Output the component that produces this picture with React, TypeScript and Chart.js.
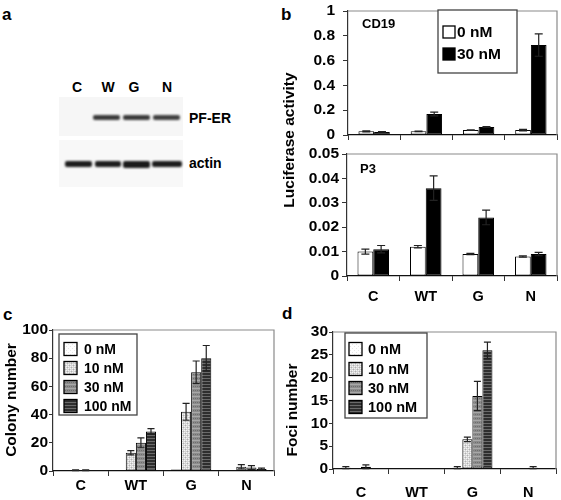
import React, { useEffect, useRef } from "react";
import { Chart, registerables } from "chart.js";

Chart.register(...registerables);

// ---------- data ----------
const categories = ["C", "WT", "G", "N"];

// panel b: CD19 luciferase
const cd19Zero = [0.03, 0.03, 0.04, 0.04];
const cd19ZeroErr = [0.004, 0.002, 0.002, 0.006];
const cd19Thirty = [0.025, 0.17, 0.065, 0.725];
const cd19ThirtyErr = [0.002, 0.015, 0.003, 0.09];
const cd19Ticks = { max: 1, step: 0.2 };

// panel b: P3 luciferase
const p3Zero = [0.010, 0.012, 0.009, 0.008];
const p3ZeroErr = [0.001, 0.0005, 0.0003, 0.0003];
const p3Thirty = [0.011, 0.036, 0.024, 0.009];
const p3ThirtyErr = [0.0015, 0.005, 0.003, 0.0007];
const p3Ticks = { max: 0.05, step: 0.01 };

// panel c: colony number
const colony0 = [0, 0.5, 1, 0.3];
const colony0Err = [0, 0, 0, 0];
const colony10 = [0.5, 13, 42, 3];
const colony10Err = [0.3, 1.5, 6, 1.5];
const colony30 = [0.5, 20, 70, 2.5];
const colony30Err = [0.3, 3.5, 8, 1.3];
const colony100 = [0, 28, 80, 1.5];
const colony100Err = [0, 2, 9, 0.5];
const colonyTicks = { max: 100, step: 20 };

// panel d: foci number
const foci0 = [0.3, 0, 0.3, 0];
const foci0Err = [0.2, 0, 0.2, 0];
const foci10 = [0, 0, 6.5, 0];
const foci10Err = [0, 0, 0.5, 0];
const foci30 = [0.5, 0, 16, 0.3];
const foci30Err = [0.4, 0, 3.2, 0.2];
const foci100 = [0, 0, 26, 0];
const foci100Err = [0, 0, 1.8, 0];
const fociTicks = { max: 30, step: 5 };

const doseLabels2 = ["0 nM", "30 nM"];
const doseLabels4 = ["0 nM", "10 nM", "30 nM", "100 nM"];

const FONT = "'Liberation Sans', Arial, sans-serif";

// ---------- patterns ----------
function makePattern(kind: string): CanvasPattern | string {
  const c = document.createElement("canvas");
  c.width = 4;
  c.height = 4;
  const g = c.getContext("2d")!;
  if (kind === "white") {
    g.fillStyle = "#ffffff";
    g.fillRect(0, 0, 4, 4);
    g.fillStyle = "#e6e6e6";
    g.fillRect(0, 0, 1, 1);
    g.fillRect(2, 2, 1, 1);
  } else if (kind === "light") {
    g.fillStyle = "#d4d4d4";
    g.fillRect(0, 0, 4, 4);
    g.fillStyle = "#f4f4f4";
    g.fillRect(0, 0, 1, 1);
    g.fillRect(2, 0, 1, 1);
    g.fillRect(0, 2, 1, 1);
    g.fillRect(2, 2, 1, 1);
    g.fillStyle = "#b0b0b0";
    g.fillRect(1, 1, 1, 1);
    g.fillRect(3, 3, 1, 1);
  } else if (kind === "mid") {
    g.fillStyle = "#8c8c8c";
    g.fillRect(0, 0, 4, 4);
    g.fillStyle = "#a8a8a8";
    g.fillRect(0, 0, 4, 1);
    g.fillStyle = "#6e6e6e";
    g.fillRect(1, 2, 1, 1);
    g.fillRect(3, 2, 1, 1);
  } else if (kind === "dark") {
    c.height = 3;
    g.fillStyle = "#2e2e2e";
    g.fillRect(0, 0, 4, 3);
    g.fillStyle = "#6a6a6a";
    g.fillRect(0, 0, 4, 1);
  } else {
    return "#000";
  }
  const tmp = document.createElement("canvas").getContext("2d")!;
  return tmp.createPattern(c, "repeat")!;
}

// ---------- plugins ----------
const errorBarPlugin = {
  id: "errorBars",
  afterDatasetsDraw(chart: any) {
    const ctx = chart.ctx;
    const yScale = chart.scales.y;
    chart.data.datasets.forEach((ds: any, di: number) => {
      const errs: number[] = ds.errors || [];
      const meta = chart.getDatasetMeta(di);
      meta.data.forEach((bar: any, i: number) => {
        const e = errs[i];
        if (!e) return;
        const v = ds.data[i];
        const yHi = yScale.getPixelForValue(v + e);
        const yLo = yScale.getPixelForValue(Math.max(0, v - e));
        const cap = Math.min(4, bar.width * 0.35);
        ctx.save();
        ctx.strokeStyle = "#222";
        ctx.lineWidth = 1.2;
        ctx.beginPath();
        ctx.moveTo(bar.x, yLo);
        ctx.lineTo(bar.x, yHi);
        ctx.moveTo(bar.x - cap, yHi);
        ctx.lineTo(bar.x + cap, yHi);
        ctx.moveTo(bar.x - cap, yLo);
        ctx.lineTo(bar.x + cap, yLo);
        ctx.stroke();
        ctx.restore();
      });
    });
  },
};

const frameAndLegendPlugin = {
  id: "frameLegend",
  beforeDatasetsDraw(chart: any) {
    const { ctx, chartArea } = chart;
    ctx.save();
    ctx.strokeStyle = "#8a8a8a";
    ctx.lineWidth = 1.2;
    ctx.beginPath();
    ctx.moveTo(chartArea.left, chartArea.top);
    ctx.lineTo(chartArea.right, chartArea.top);
    ctx.lineTo(chartArea.right, chartArea.bottom);
    ctx.stroke();
    ctx.restore();
  },
  afterDraw(chart: any, _args: any, opts: any) {
    const ctx = chart.ctx;
    if (opts.title) {
      ctx.save();
      ctx.fillStyle = "#000";
      ctx.font = `bold 13px ${FONT}`;
      ctx.textBaseline = "middle";
      ctx.fillText(opts.title.text, opts.title.x, opts.title.y);
      ctx.restore();
    }
    const lg = opts.legend;
    if (!lg) return;
    ctx.save();
    ctx.fillStyle = "#fff";
    ctx.fillRect(lg.x, lg.y, lg.w, lg.h);
    ctx.strokeStyle = "#444";
    ctx.lineWidth = 1.3;
    ctx.strokeRect(lg.x, lg.y, lg.w, lg.h);
    chart.data.datasets.forEach((ds: any, i: number) => {
      const cy = lg.rows[i];
      const s = lg.swatch;
      ctx.fillStyle = ds.backgroundColor;
      ctx.fillRect(lg.sx, cy - s / 2, s, s);
      ctx.strokeStyle = "#000";
      ctx.lineWidth = 1.3;
      ctx.strokeRect(lg.sx, cy - s / 2, s, s);
      ctx.fillStyle = "#000";
      ctx.font = `bold ${lg.font}px ${FONT}`;
      ctx.textBaseline = "middle";
      ctx.fillText(ds.label, lg.tx, cy + 1);
    });
    ctx.restore();
  },
};

// ---------- chart builder ----------
type PanelCfg = {
  w: number;
  h: number;
  area: { left: number; top: number; right: number; bottom: number };
  datasets: any[];
  ticks: { max: number; step: number };
  showX: boolean;
  xPad: number;
  yPad: number;
  yTick: number;
  pct: number;
  legend?: any;
  title?: any;
};

function fmt(v: number) {
  return String(Number(Number(v).toFixed(2)));
}

function buildChart(canvas: HTMLCanvasElement, cfg: PanelCfg) {
  const yFont = { family: FONT, size: 15.5, weight: "bold" as const };
  const xFont = { family: FONT, size: 14.5, weight: "bold" as const };
  return new Chart(canvas, {
    type: "bar",
    data: {
      labels: categories,
      datasets: cfg.datasets.map((d) => ({
        ...d,
        borderColor: "#000",
        borderWidth: 1,
        borderSkipped: false,
        categoryPercentage: cfg.pct,
        barPercentage: 1,
      })),
    },
    options: {
      animation: false,
      responsive: false,
      maintainAspectRatio: false,
      events: [],
      layout: {
        padding: { top: cfg.area.top, right: cfg.w - cfg.area.right, left: 0, bottom: 0 },
      },
      plugins: {
        legend: { display: false },
        tooltip: { enabled: false },
        frameLegend: { legend: cfg.legend, title: cfg.title },
      } as any,
      scales: {
        x: {
          ticks: { display: cfg.showX, font: xFont, color: "#000", padding: cfg.xPad },
          grid: { offset: true, drawOnChartArea: false, drawTicks: true, tickLength: 5, color: "#333", lineWidth: 1 },
          border: { color: "#111", width: 1.2 },
          afterFit: (s: any) => {
            s.height = cfg.h - cfg.area.bottom;
            s.paddingLeft = 0;
            s.paddingRight = 0;
          },
        },
        y: {
          min: 0,
          max: cfg.ticks.max,
          ticks: {
            stepSize: cfg.ticks.step,
            font: yFont,
            color: "#000",
            padding: cfg.yPad,
            callback: (v: any) => fmt(v),
          },
          grid: { drawOnChartArea: false, drawTicks: true, tickLength: cfg.yTick, color: "#333", lineWidth: 1 },
          border: { color: "#333", width: 1.2 },
          afterFit: (s: any) => {
            s.width = cfg.area.left;
            s.paddingTop = 0;
            s.paddingBottom = 0;
          },
        },
      },
    },
    plugins: [frameAndLegendPlugin, errorBarPlugin],
  } as any);
}

// ---------- blot ----------
function Band({ x1, x2, y, h, dark }: { x1: number; x2: number; y: number; h: number; dark: string }) {
  return (
    <div
      style={{
        position: "absolute",
        left: x1,
        top: y - h / 2,
        width: x2 - x1,
        height: h,
        background: dark,
        borderRadius: 2,
        filter: "blur(0.8px)",
      }}
    />
  );
}

const blotLanes = ["C", "W", "G", "N"];
const blotLaneX = [77, 108, 134, 167];

function Blot() {
  const lbl: React.CSSProperties = {
    position: "absolute",
    fontFamily: FONT,
    fontWeight: "bold",
    fontSize: 14,
    lineHeight: "14px",
    color: "#000",
  };
  return (
    <>
      {blotLanes.map((l, i) => (
        <div key={l} style={{ ...lbl, left: blotLaneX[i] - 10, width: 20, textAlign: "center", top: 80 }}>
          {l}
        </div>
      ))}
      <div style={{ position: "absolute", left: 59, top: 97, width: 124, height: 39, background: "#f6f6f6" }} />
      <div style={{ position: "absolute", left: 59, top: 140, width: 124, height: 47, background: "#f8f8f8" }} />
      <Band x1={93} x2={120} y={117} h={5} dark="#3a3a3a" />
      <Band x1={123} x2={150} y={117} h={5} dark="#3a3a3a" />
      <Band x1={153} x2={180} y={117} h={5} dark="#404040" />
      <Band x1={65} x2={92} y={164} h={6} dark="#1e1e1e" />
      <Band x1={95} x2={121} y={164} h={6} dark="#1e1e1e" />
      <Band x1={123} x2={150} y={164} h={7} dark="#1a1a1a" />
      <Band x1={152} x2={182} y={164} h={6} dark="#1e1e1e" />
      <div style={{ ...lbl, left: 189, top: 111 }}>PF-ER</div>
      <div style={{ ...lbl, left: 189, top: 156 }}>actin</div>
    </>
  );
}

// ---------- app ----------
export default function App() {
  const refB1 = useRef<HTMLCanvasElement>(null);
  const refB2 = useRef<HTMLCanvasElement>(null);
  const refC = useRef<HTMLCanvasElement>(null);
  const refD = useRef<HTMLCanvasElement>(null);

  useEffect(() => {
    const pW = makePattern("white");
    const pL = makePattern("light");
    const pM = makePattern("mid");
    const pD = makePattern("dark");

    const charts: Chart[] = [];
    charts.push(
      buildChart(refB1.current!, {
        w: 281,
        h: 140,
        area: { left: 68, top: 11, right: 277, bottom: 135 },
        datasets: [
          { label: doseLabels2[0], data: cd19Zero, errors: cd19ZeroErr, backgroundColor: "#ffffff" },
          { label: doseLabels2[1], data: cd19Thirty, errors: cd19ThirtyErr, backgroundColor: "#000000" },
        ],
        ticks: cd19Ticks,
        showX: false,
        xPad: 0,
        yPad: 8,
        yTick: 5,
        pct: 0.6,
        legend: { x: 158, y: 10, w: 79, h: 63, rows: [32, 54], swatch: 12, sx: 163, tx: 177, font: 15.5 },
        title: { text: "CD19", x: 82, y: 24 },
      })
    );
    charts.push(
      buildChart(refB2.current!, {
        w: 281,
        h: 165,
        area: { left: 67, top: 14, right: 277, bottom: 136 },
        datasets: [
          { label: doseLabels2[0], data: p3Zero, errors: p3ZeroErr, backgroundColor: "#ffffff" },
          { label: doseLabels2[1], data: p3Thirty, errors: p3ThirtyErr, backgroundColor: "#000000" },
        ],
        ticks: p3Ticks,
        showX: true,
        xPad: 7,
        yPad: 3,
        yTick: 5,
        pct: 0.6,
        title: { text: "P3", x: 80, y: 29 },
      })
    );
    charts.push(
      buildChart(refC.current!, {
        w: 280,
        h: 200,
        area: { left: 53, top: 30, right: 274, bottom: 171 },
        datasets: [
          { label: doseLabels4[0], data: colony0, errors: colony0Err, backgroundColor: pW },
          { label: doseLabels4[1], data: colony10, errors: colony10Err, backgroundColor: pL },
          { label: doseLabels4[2], data: colony30, errors: colony30Err, backgroundColor: pM },
          { label: doseLabels4[3], data: colony100, errors: colony100Err, backgroundColor: pD },
        ],
        ticks: colonyTicks,
        showX: true,
        xPad: 1,
        yPad: 1,
        yTick: 4,
        pct: 0.73,
        legend: { x: 59, y: 34, w: 78, h: 81, rows: [49, 68, 87, 106], swatch: 13, sx: 64, tx: 84, font: 14 },
      })
    );
    charts.push(
      buildChart(refD.current!, {
        w: 281,
        h: 200,
        area: { left: 53, top: 32, right: 276, bottom: 169 },
        datasets: [
          { label: doseLabels4[0], data: foci0, errors: foci0Err, backgroundColor: pW },
          { label: doseLabels4[1], data: foci10, errors: foci10Err, backgroundColor: pL },
          { label: doseLabels4[2], data: foci30, errors: foci30Err, backgroundColor: pM },
          { label: doseLabels4[3], data: foci100, errors: foci100Err, backgroundColor: pD },
        ],
        ticks: fociTicks,
        showX: true,
        xPad: 10,
        yPad: 1,
        yTick: 4,
        pct: 0.72,
        legend: { x: 65, y: 33, w: 82, h: 85, rows: [49, 69, 88, 107], swatch: 13, sx: 69, tx: 88, font: 14.5 },
      })
    );
    return () => charts.forEach((c) => c.destroy());
  }, []);

  const letter: React.CSSProperties = {
    position: "absolute",
    fontFamily: FONT,
    fontWeight: "bold",
    fontSize: 17,
    lineHeight: "17px",
    color: "#000",
  };
  const vtitle = (text: string, cx: number, cy: number): React.ReactNode => (
    <div
      style={{
        position: "absolute",
        left: cx - 100,
        top: cy - 9,
        width: 200,
        height: 18,
        lineHeight: "18px",
        textAlign: "center",
        transform: "rotate(-90deg)",
        fontFamily: FONT,
        fontWeight: "bold",
        fontSize: 15.5,
        color: "#000",
        whiteSpace: "nowrap",
      }}
    >
      {text}
    </div>
  );

  return (
    <div
      style={{
        position: "absolute",
        left: 0,
        top: 0,
        width: 561,
        height: 500,
        background: "#fff",
        overflow: "hidden",
      }}
    >
      <div style={{ ...letter, left: 2, top: 6 }}>a</div>
      <div style={{ ...letter, left: 281, top: 6 }}>b</div>
      <div style={{ ...letter, left: 3, top: 306 }}>c</div>
      <div style={{ ...letter, left: 282, top: 305 }}>d</div>
      <Blot />
      <canvas ref={refB1} width={281} height={140} style={{ position: "absolute", left: 280, top: 0 }} />
      <canvas ref={refB2} width={281} height={165} style={{ position: "absolute", left: 280, top: 140 }} />
      <canvas ref={refC} width={280} height={200} style={{ position: "absolute", left: 0, top: 300 }} />
      <canvas ref={refD} width={281} height={200} style={{ position: "absolute", left: 280, top: 300 }} />
      {vtitle("Luciferase activity", 289, 140)}
      {vtitle("Colony number", 11, 400)}
      {vtitle("Foci number", 292, 410)}
    </div>
  );
}
